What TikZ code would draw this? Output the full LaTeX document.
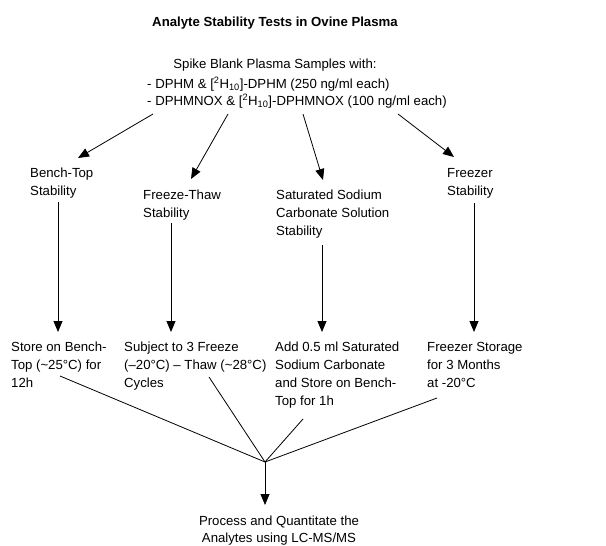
\documentclass[tikz,border=0pt]{standalone}
\usepackage{fontspec}
\setmainfont{Liberation Sans}
\usetikzlibrary{arrows.meta}
\newcommand{\tld}{\textasciitilde}
\tikzset{
  lbl/.style={anchor=north west,inner sep=0pt,align=left,font=\fontsize{13.2}{18}\selectfont},
  flow/.style={line width=0.8pt,-{Triangle[length=11pt,width=9pt]}},
  merge/.style={line width=0.8pt}
}
\begin{document}
\begin{tikzpicture}[x=1pt,y=-1pt]
   \useasboundingbox (0,0) rectangle (606,546);
   % heading and spiking step
   \node[anchor=base,inner sep=0pt,font=\bfseries\fontsize{13.2}{16}\selectfont] (title) at (275,27) {Analyte Stability Tests in Ovine Plasma};
   \node[anchor=base,inner sep=0pt,font=\fontsize{13.2}{16}\selectfont] (spike) at (275,68) {Spike Blank Plasma Samples with:};
   \node[lbl,font=\fontsize{13.2}{17}\selectfont] (spikes) at (147,77)
    {- DPHM \& [\textsuperscript{2}H\textsubscript{10}]-DPHM (250 ng/ml each)\\
     - DPHMNOX \& [\textsuperscript{2}H\textsubscript{10}]-DPHMNOX (100 ng/ml each)};
   % the four tests
   \node[lbl] (bench)   at ( 30,168) {Bench-Top\\Stability};
   \node[lbl] (thaw)    at (143,190) {Freeze-Thaw\\Stability};
   \node[lbl] (sodium)  at (276,190) {Saturated Sodium\\Carbonate Solution\\Stability};
   \node[lbl] (freezer) at (447,168) {Freezer\\Stability};
   % their conditions
   \node[lbl] (store)   at ( 11,342) {Store on Bench-\\Top (\tld25°C) for\\12h};
   \node[lbl] (cycles)  at (124,342) {Subject to 3 Freeze\\(--20°C) -- Thaw (\tld28°C)\\Cycles};
   \node[lbl] (add)     at (275,342) {Add 0.5 ml Saturated\\Sodium Carbonate\\and Store on Bench-\\Top for 1h};
   \node[lbl] (storage) at (427,342) {Freezer Storage\\for 3 Months\\at -20°C};
   \node[lbl,anchor=north,align=center,font=\fontsize{13.2}{17}\selectfont] (quant) at (279,516) {Process and Quantitate the\\Analytes using LC-MS/MS};
   % line ends
   \coordinate (sA) at (153,114); \coordinate (eA) at ( 78,158);
   \coordinate (sB) at (228,114); \coordinate (eB) at (191,179);
   \coordinate (sC) at (303,114); \coordinate (eC) at (323,180);
   \coordinate (sD) at (398,114); \coordinate (eD) at (454,157);
   \coordinate (vA) at ( 58,202); \coordinate (wA) at ( 58,332);
   \coordinate (vB) at (171,223); \coordinate (wB) at (171,332);
   \coordinate (vC) at (322,245); \coordinate (wC) at (322,332);
   \coordinate (vD) at (474,203); \coordinate (wD) at (474,332);
   \coordinate (mA) at ( 60,376);
   \coordinate (mB) at (209,377);
   \coordinate (mC) at (303,419);
   \coordinate (mD) at (437,398);
   \coordinate (hub) at (265,462);
   \coordinate (qTop) at (265,505);
   % arrows
   \draw[flow] (sA) -- (eA);
   \draw[flow] (sB) -- (eB);
   \draw[flow] (sC) -- (eC);
   \draw[flow] (sD) -- (eD);
   \draw[flow] (vA) -- (wA);
   \draw[flow] (vB) -- (wB);
   \draw[flow] (vC) -- (wC);
   \draw[flow] (vD) -- (wD);
   \draw[merge] (mA) -- (hub);
   \draw[merge] (mB) -- (hub);
   \draw[merge] (mC) -- (hub);
   \draw[merge] (mD) -- (hub);
   \draw[flow] (hub) -- (qTop);
\end{tikzpicture}
\end{document}
